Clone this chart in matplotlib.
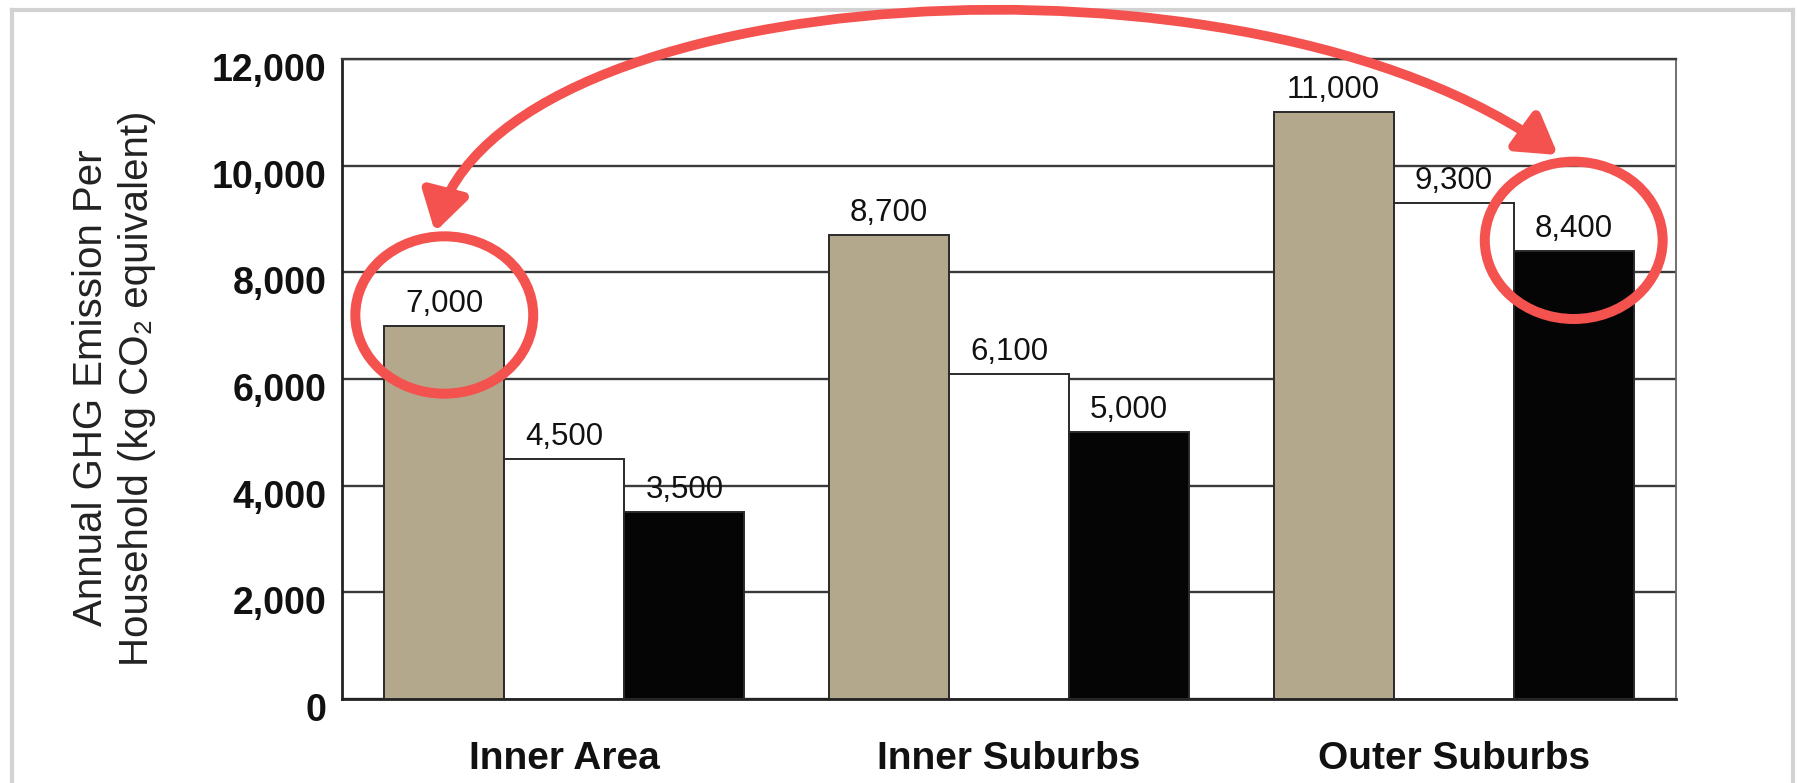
import matplotlib
matplotlib.use("Agg")
import matplotlib.pyplot as plt
import matplotlib.transforms as mtransforms
from matplotlib.patches import Ellipse, FancyArrowPatch
from matplotlib.path import Path
from matplotlib.lines import Line2D
import numpy as np

plt.rcParams['font.family'] = ['Liberation Sans', 'DejaVu Sans']

# data ----------------------------------------
categories = ["Inner Area", "Inner Suburbs", "Outer Suburbs"]
series_a = [7000, 8700, 11000]   # tan
series_b = [4500, 6100, 9300]    # white
series_c = [3500, 5000, 8400]    # black
yticks = [0, 2000, 4000, 6000, 8000, 10000, 12000]
# ---------------------------------------------

W, H = 1797, 783
fig = plt.figure(figsize=(W / 100, H / 100), dpi=100)
ax = fig.add_axes([342 / W, 1 - 699 / H, (1676 - 342) / W, (699 - 59) / H])

red = '#f4524f'
colors = ['#b3a78c', '#ffffff', '#050505']
bw = 0.27
x = np.arange(len(categories))
all_series = [series_a, series_b, series_c]

for i, (vals, col) in enumerate(zip(all_series, colors)):
    pos = x + (i - 1) * bw
    ax.bar(pos, vals, width=bw, color=col, edgecolor='#2a2a2a', linewidth=1.4, zorder=3)
    for px, v in zip(pos, vals):
        ax.annotate(f"{v:,}", (px, v), xytext=(0, 5), textcoords='offset points',
                    ha='center', va='bottom', fontsize=22.5, color='#111111', zorder=4)

ax.set_xlim(-0.5, 2.5)
ax.set_ylim(0, 12000)
ax.set_yticks(yticks)
ax.set_yticklabels([f"{t:,}" for t in yticks], fontsize=27, fontweight='bold', color='#111111')
ax.set_xticks(x)
ax.set_xticklabels(categories, fontsize=28, fontweight='bold', color='#111111')
ax.tick_params(axis='y', length=0, pad=11)
ax.tick_params(axis='x', length=0, pad=30)
offset = mtransforms.ScaledTranslation(0, -8 / 100, fig.dpi_scale_trans)
for lab in ax.get_yticklabels():
    lab.set_transform(lab.get_transform() + offset)

ax.yaxis.grid(True, color='#3a3a3a', linewidth=1.7, zorder=0)
ax.set_axisbelow(True)
for side in ['left', 'bottom']:
    ax.spines[side].set_color('#222222')
    ax.spines[side].set_linewidth(2.0)
ax.spines['top'].set_color('#3a3a3a')
ax.spines['top'].set_linewidth(1.7)
ax.spines['right'].set_color('#666666')
ax.spines['right'].set_linewidth(1.3)

fig.text(114 / W, 1 - 388 / H, "Annual GHG Emission Per\nHousehold (kg CO\u2082 equivalent)",
         rotation=90, ha='center', va='center', fontsize=29, color='#222222',
         linespacing=1.25, multialignment='center')

# red circles round the first and last highlighted bars
for gi, si in [(0, 0), (2, 2)]:
    val = all_series[si][gi]
    cx = x[gi] + (si - 1) * bw
    ell = Ellipse((cx, val + 200), width=0.40, height=2950, fill=False,
                  edgecolor=red, linewidth=7.2, zorder=6, clip_on=False)
    ax.add_patch(ell)

# curved double arrow (pixel coords, origin top-left)
pix = mtransforms.Affine2D().scale(1 / W, -1 / H).translate(0, 1) + fig.transFigure
verts = [(435, 232), (500, -20), (1247, -70), (1558, 155)]
path = Path(verts, [Path.MOVETO, Path.CURVE4, Path.CURVE4, Path.CURVE4])
arrow = FancyArrowPatch(path=path, arrowstyle='<|-|>,head_length=1.15,head_width=0.7',
                        mutation_scale=20, color=red, linewidth=7, transform=pix,
                        zorder=7, clip_on=False)
fig.add_artist(arrow)

# light gray frame
frame_kw = dict(color='#d2d2d2', linewidth=3, transform=pix)
fig.add_artist(Line2D([12, 1793], [10, 10], **frame_kw))
fig.add_artist(Line2D([12, 12], [10, 790], **frame_kw))
fig.add_artist(Line2D([1793, 1793], [10, 790], **frame_kw))

fig.savefig("out.png", dpi=100, facecolor='white')
